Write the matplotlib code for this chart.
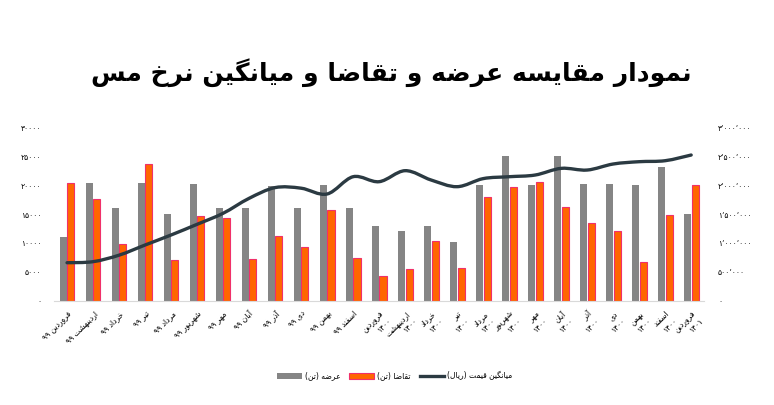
import re
import numpy as np
import matplotlib
matplotlib.use('Agg')
import matplotlib.pyplot as plt
from matplotlib.path import Path
from matplotlib.patches import PathPatch
from matplotlib.lines import Line2D

# months, Farvardin 99 .. Farvardin 1401
months = ['فروردین', 'اردیبهشت', 'خرداد', 'تیر', 'مرداد', 'شهریور',
	'مهر', 'آبان', 'آذر', 'دی', 'بهمن', 'اسفند']
labels = [m + ' ۹۹' for m in months] + [m + '\n۱۴۰۰' for m in months] + ['فروردین\n۱۴۰۱']

supply = [11000, 20400, 16100, 20300, 15000, 20100, 16000, 16000, 19900,
	16000, 20000, 16000, 13000, 12000, 13000, 10100, 20000, 25000,
	20000, 25000, 20100, 20100, 20000, 23100, 15000]
demand = [20300, 17600, 9800, 23600, 7100, 14600, 14300, 7200, 11200,
	9300, 15700, 7400, 4300, 5600, 10300, 5700, 18000, 19700,
	20600, 16200, 13500, 12100, 6700, 14900, 20000]
price = [660000, 678000, 790000, 965000, 1138000, 1322000, 1512000, 1770000, 1955000,
	1945000, 1845000, 2143000, 2057000, 2247000, 2086000, 1971000, 2110000, 2143000,
	2172000, 2287000, 2258000, 2362000, 2402000, 2419000, 2517000]

leftTicks = [0, 5000, 10000, 15000, 20000, 25000, 30000]
rightTicks = [0, 500000, 1000000, 1500000, 2000000, 2500000, 3000000]

title = 'نمودار مقایسه عرضه و تقاضا و میانگین نرخ مس'
legendNames = ['عرضه (تن)', 'تقاضا (تن)', 'میانگین قیمت (ریال)']

# simple arabic shaping: (isolated, final, initial, medial)
FORMS = {
	'\u0627': (0xFE8D, 0xFE8E, None, None),
	'\u0622': (0xFE81, 0xFE82, None, None),
	'\u0628': (0xFE8F, 0xFE90, 0xFE91, 0xFE92),
	'\u067E': (0xFB56, 0xFB57, 0xFB58, 0xFB59),
	'\u062A': (0xFE95, 0xFE96, 0xFE97, 0xFE98),
	'\u062B': (0xFE99, 0xFE9A, 0xFE9B, 0xFE9C),
	'\u062C': (0xFE9D, 0xFE9E, 0xFE9F, 0xFEA0),
	'\u0686': (0xFB7A, 0xFB7B, 0xFB7C, 0xFB7D),
	'\u062D': (0xFEA1, 0xFEA2, 0xFEA3, 0xFEA4),
	'\u062E': (0xFEA5, 0xFEA6, 0xFEA7, 0xFEA8),
	'\u062F': (0xFEA9, 0xFEAA, None, None),
	'\u0630': (0xFEAB, 0xFEAC, None, None),
	'\u0631': (0xFEAD, 0xFEAE, None, None),
	'\u0632': (0xFEAF, 0xFEB0, None, None),
	'\u0698': (0xFB8A, 0xFB8B, None, None),
	'\u0633': (0xFEB1, 0xFEB2, 0xFEB3, 0xFEB4),
	'\u0634': (0xFEB5, 0xFEB6, 0xFEB7, 0xFEB8),
	'\u0635': (0xFEB9, 0xFEBA, 0xFEBB, 0xFEBC),
	'\u0636': (0xFEBD, 0xFEBE, 0xFEBF, 0xFEC0),
	'\u0637': (0xFEC1, 0xFEC2, 0xFEC3, 0xFEC4),
	'\u0638': (0xFEC5, 0xFEC6, 0xFEC7, 0xFEC8),
	'\u0639': (0xFEC9, 0xFECA, 0xFECB, 0xFECC),
	'\u063A': (0xFECD, 0xFECE, 0xFECF, 0xFED0),
	'\u0641': (0xFED1, 0xFED2, 0xFED3, 0xFED4),
	'\u0642': (0xFED5, 0xFED6, 0xFED7, 0xFED8),
	'\u06A9': (0xFB8E, 0xFB8F, 0xFB90, 0xFB91),
	'\u06AF': (0xFB92, 0xFB93, 0xFB94, 0xFB95),
	'\u0644': (0xFEDD, 0xFEDE, 0xFEDF, 0xFEE0),
	'\u0645': (0xFEE1, 0xFEE2, 0xFEE3, 0xFEE4),
	'\u0646': (0xFEE5, 0xFEE6, 0xFEE7, 0xFEE8),
	'\u0648': (0xFEED, 0xFEEE, None, None),
	'\u0647': (0xFEE9, 0xFEEA, 0xFEEB, 0xFEEC),
	'\u06CC': (0xFBFC, 0xFBFD, 0xFBFE, 0xFBFF),
}

def shapeLine(text):
	out = []
	for i, ch in enumerate(text):
		if ch not in FORMS:
			out.append(ch)
			continue
		prev = text[i-1] if i > 0 else ''
		nxt = text[i+1] if i + 1 < len(text) else ''
		f = FORMS[ch]
		joinPrev = prev in FORMS and FORMS[prev][2] is not None
		joinNext = f[2] is not None and nxt in FORMS
		if joinPrev and joinNext:
			c = f[3]
		elif joinPrev:
			c = f[1]
		elif joinNext:
			c = f[2]
		else:
			c = f[0]
		out.append(chr(c))
	return ''.join(out)

def fa(text):
	lines = []
	for line in text.split('\n'):
		s = shapeLine(line)[::-1]
		s = s.translate({ord('('): ')', ord(')'): '('})
		s = re.sub('[۰-۹٬]+', lambda m: m.group(0)[::-1], s)
		lines.append(s)
	return '\n'.join(lines)

def faNum(n, sep=True):
	s = '{:,}'.format(n).replace(',', '٬' if sep else '')
	return s.translate(str.maketrans('0123456789', '۰۱۲۳۴۵۶۷۸۹'))

plt.rcParams['font.family'] = ['DejaVu Sans']

fig = plt.figure(figsize=(7.74, 4.05), dpi=100)
ax = fig.add_axes([0.0698, 0.2568, 0.84, 0.4296])
ax2 = ax.twinx()

x = np.arange(len(labels))
barW = 0.27
grayBars = ax.bar(x - 0.15, supply, barW, color='#858585', zorder=2)
orangeBars = ax.bar(x + 0.15, demand, barW, color='#FF6600', edgecolor='#F0306A', linewidth=0.8, zorder=2)

ax.set_xlim(-0.5, len(labels) - 0.5)
ax.set_ylim(0, 30000)
ax.set_yticks(leftTicks)
ax.set_yticklabels([faNum(v, sep=False) for v in leftTicks])
ax.set_xticks(x)
ax.set_xticklabels([fa(l) for l in labels], rotation=45, ha='right', va='top',
	rotation_mode='anchor', fontsize=5.5)
ax.tick_params(axis='x', length=0, pad=6)
ax.tick_params(axis='y', length=0, pad=9, labelsize=5.5)
for side in ['top', 'left', 'right']:
	ax.spines[side].set_visible(False)
ax.spines['bottom'].set_color('#D9D9D9')

# smooth price line (catmull-rom through the monthly points)
pts = np.column_stack([x, price]).astype(float)
verts = [pts[0]]
codes = [Path.MOVETO]
n = len(pts)
for i in range(n - 1):
	p0 = pts[max(i - 1, 0)]
	p1 = pts[i]
	p2 = pts[i + 1]
	p3 = pts[min(i + 2, n - 1)]
	verts += [p1 + (p2 - p0) / 6, p2 - (p3 - p1) / 6, p2]
	codes += [Path.CURVE4] * 3
lineColor = '#2B3A42'
ax2.add_patch(PathPatch(Path(verts, codes), fill=False, edgecolor=lineColor, lw=2.4, capstyle='round'))
ax2.set_ylim(0, 3000000)
ax2.set_yticks(rightTicks)
ax2.set_yticklabels([faNum(v) for v in rightTicks])
ax2.tick_params(axis='y', length=0, pad=10, labelsize=5.5)
for side in ['top', 'left', 'right', 'bottom']:
	ax2.spines[side].set_visible(False)

fig.text(0.505, 0.82, fa(title), ha='center', va='center', fontsize=18, fontweight='bold')

lineHandle = Line2D([0], [0], color=lineColor, lw=2.4)
fig.legend([grayBars, orangeBars, lineHandle], [fa(t) for t in legendNames],
	loc='center', bbox_to_anchor=(0.51, 0.0716), ncol=3, frameon=False,
	fontsize=5.5, handlelength=3.2, handleheight=1.0, handletextpad=0.4, columnspacing=1.2)

fig.savefig('out.png', dpi=100)
